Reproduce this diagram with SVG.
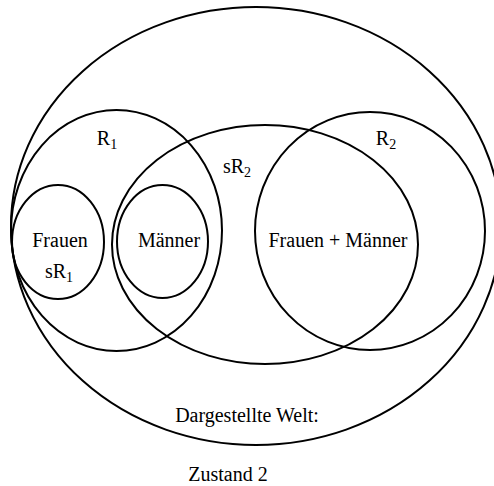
<svg xmlns="http://www.w3.org/2000/svg" width="494" height="486" viewBox="0 0 494 486">
  <style>
    .set { fill: none; stroke: #000; stroke-width: 2; }
    .lbl { font-family: "Liberation Serif", "Times New Roman", serif; font-size: 20px; fill: #000; text-anchor: middle; }
    .sub { font-size: 14px; }
  </style>
  <rect width="494" height="486" fill="#fff"/>
  <g id="welt">
    <ellipse class="set" cx="256" cy="226" rx="245" ry="219"/>
    <text class="lbl" x="247" y="422">Dargestellte Welt:</text>
  </g>
  <g id="r1">
    <ellipse class="set" cx="116.5" cy="230.5" rx="105.5" ry="120.5"/>
    <text class="lbl" x="107" y="145">R<tspan class="sub" dy="4">1</tspan></text>
  </g>
  <g id="sr2">
    <ellipse class="set" cx="265" cy="244.5" rx="153" ry="119.5"/>
    <text class="lbl" x="237" y="173">sR<tspan class="sub" dy="4">2</tspan></text>
  </g>
  <g id="r2">
    <ellipse class="set" cx="370" cy="231" rx="115" ry="119"/>
    <text class="lbl" x="386" y="145">R<tspan class="sub" dy="4">2</tspan></text>
    <text class="lbl" x="338" y="247">Frauen + Männer</text>
  </g>
  <g id="frauen">
    <ellipse class="set" cx="58" cy="242" rx="46" ry="57"/>
    <text class="lbl" x="60" y="247">Frauen</text>
    <text class="lbl" x="59" y="278">sR<tspan class="sub" dy="4">1</tspan></text>
  </g>
  <g id="maenner">
    <ellipse class="set" cx="162.5" cy="241.5" rx="45.5" ry="56.5"/>
    <text class="lbl" x="169" y="247">Männer</text>
  </g>
  <g id="caption">
    <text class="lbl" x="228" y="481">Zustand 2</text>
  </g>
</svg>
